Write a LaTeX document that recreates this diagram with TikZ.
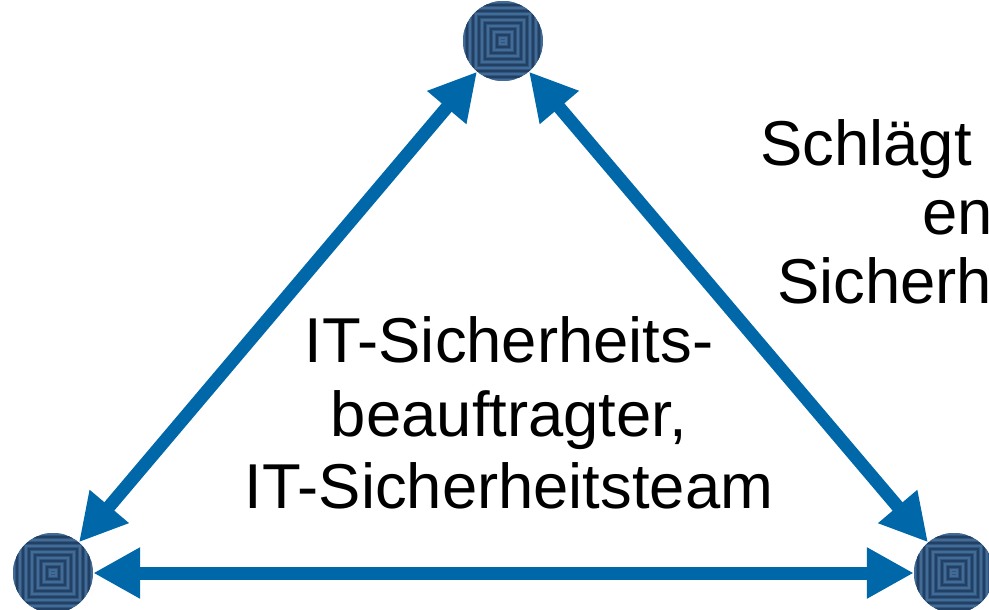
\documentclass[tikz,border=0pt]{standalone}
\usepackage{fontspec}
\setmainfont{Liberation Sans}
\usetikzlibrary{arrows.meta}
\definecolor{arrowblue}{RGB}{0,104,168}
\definecolor{hubfill}{RGB}{48,86,128}
\definecolor{hubdark}{RGB}{34,64,100}
\definecolor{hublight}{RGB}{66,108,150}
\begin{document}
\begin{tikzpicture}[x=1pt,y=-1pt,
  hub/.style={circle, minimum size=80pt, inner sep=0pt, fill=hubfill,
    path picture={
      \foreach \s [count=\i] in {3,6,...,48}{
        \ifodd\i\def\hubcol{hublight}\else\def\hubcol{hubdark}\fi
        \draw[\hubcol, line width=1.1pt, shift={(path picture bounding box.center)}]
          (-\s,-\s) rectangle (\s,\s);
      }
      \fill[hublight, shift={(path picture bounding box.center)}] (-2,-1.2) rectangle (2,1.2);
    }},
  link/.style={draw=arrowblue, line width=13pt,
    {Triangle[length=47pt,width=48pt]}-{Triangle[length=47pt,width=48pt]}},
  bigtxt/.style={font=\fontsize{63.4}{73}\selectfont, inner sep=0pt}
]
\useasboundingbox (0,0) rectangle (989,610);
\clip (0,0) rectangle (989,610);

\node[hub] (top) at (503,41) {};
\node[hub] (bl) at (53,573) {};
\node[hub] (br) at (954,573) {};

\draw[link] (bl) -- (top);
\draw[link] (top) -- (br);
\draw[link] (bl) -- (br);

\node[bigtxt, anchor=base] (c1) at (509,362) {IT-Sicherheits-};
\node[bigtxt, anchor=base] (c2) at (509,436) {beauftragter,};
\node[bigtxt, anchor=base] (c3) at (509,508) {IT-Sicherheitsteam};

\node[bigtxt, anchor=base west] (r1) at (760,165) {Schlägt};
\node[bigtxt, anchor=base west] (r2) at (922,234) {en};
\node[bigtxt, anchor=base west] (r3) at (777,303) {Sicherh};
\end{tikzpicture}
\end{document}
